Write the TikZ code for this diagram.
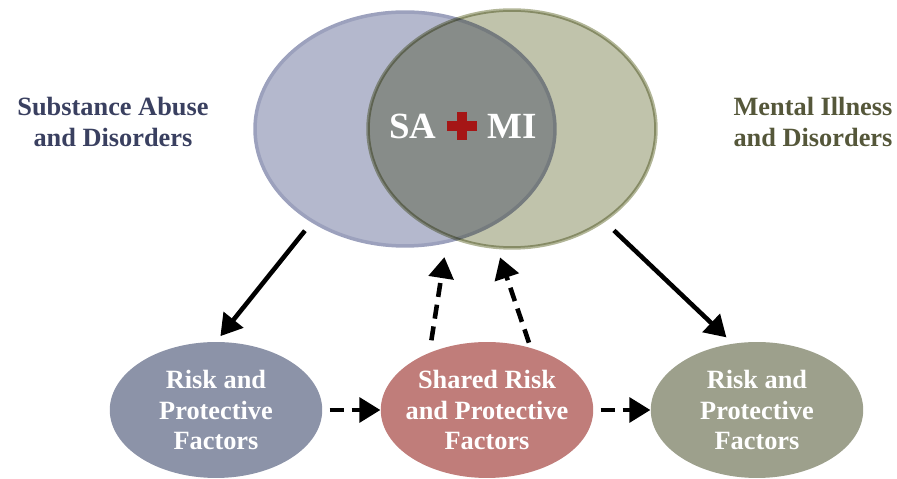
\documentclass[tikz,border=0pt]{standalone}
\usepackage{fontspec}
\setmainfont{Liberation Serif}
\usetikzlibrary{shapes.geometric,arrows.meta,positioning}

\definecolor{saback}{RGB}{180,184,205}
\definecolor{saedge}{RGB}{156,161,189}
\definecolor{miback}{RGB}{192,195,171}
\definecolor{miedge}{RGB}{178,182,152}
\definecolor{lriskfill}{RGB}{140,147,168}
\definecolor{sharedfill}{RGB}{192,125,122}
\definecolor{rriskfill}{RGB}{157,160,140}
\definecolor{satext}{RGB}{58,64,96}
\definecolor{mitext}{RGB}{85,87,58}
\definecolor{plusred}{RGB}{165,22,22}

\begin{document}
\begin{tikzpicture}
[x=0.02cm,y=-0.02cm,
bigcircle/.style={draw,ellipse,line width=0.07cm,inner sep=0pt},
factor/.style={ellipse,inner sep=0pt,minimum width=4.25cm,minimum height=2.72cm},
factortext/.style={align=center,text=white,font=\bfseries\fontsize{15}{17.1}\selectfont},
sidetext/.style={align=center,font=\bfseries\fontsize{15}{17.1}\selectfont},
bigtext/.style={inner sep=0pt,text=white,font=\bfseries\fontsize{21}{24}\selectfont},
solidarrow/.style={line width=2.6pt,-{Triangle[width=14pt,length=12pt]}},
dasharrow/.style={solidarrow,dash pattern=on 8pt off 4.5pt}]
	\useasboundingbox (0,0) rectangle (897,479);

	% the two circles
	\node[bigcircle,fill=saback,draw=saedge,minimum width=6cm,minimum height=4.68cm] (sa) at (405,129) {};
	\begin{scope}[blend mode=multiply]
		\node[bigcircle,fill=miback,draw=miedge,minimum width=5.76cm,minimum height=4.76cm] (mi) at (512,129) {};
	\end{scope}

	\node[minimum width=0.6cm,minimum height=0.56cm,inner sep=0pt] (plus) at (462,126) {};
	\draw[plusred,line width=0.19cm] (plus.west) -- (plus.east) (plus.north) -- (plus.south);
	\node[bigtext,left=0.2cm of plus] (satag) {SA};
	\node[bigtext,right=0.2cm of plus] (mitag) {MI};

	\node[sidetext,text=satext] (salabel) at (113,122) {Substance Abuse\\and Disorders};
	\node[sidetext,text=mitext] (milabel) at (813,122) {Mental Illness\\and Disorders};

	% factors
	\node[factor,fill=lriskfill] (lrisk) at (216,410) {};
	\node[factor,fill=sharedfill] (shared) at (487,410) {};
	\node[factor,fill=rriskfill] (rrisk) at (757,410) {};
	\node[factortext] (lrisktext) at (lrisk) {Risk and\\Protective\\Factors};
	\node[factortext] (sharedtext) at (shared) {Shared Risk\\and Protective\\Factors};
	\node[factortext] (rrisktext) at (rrisk) {Risk and\\Protective\\Factors};

	% arrows
	\draw[solidarrow,shorten <=6pt,shorten >=4pt] (sa.225) -- (lrisk.north);
	\draw[solidarrow,shorten <=7pt,shorten >=5pt] (mi.-45) -- (rrisk.110);
	\draw[dasharrow,shorten <=7pt,shorten >=8pt] (shared.135) -- (sa.-70);
	\draw[dasharrow,shorten <=3pt,shorten >=5pt] (shared.55) -- (mi.-97);
	\draw[dasharrow,shorten <=4pt] (lrisk.east) -- (shared.west);
	\draw[dasharrow,shorten <=4pt] (shared.east) -- (rrisk.west);
\end{tikzpicture}
\end{document}
